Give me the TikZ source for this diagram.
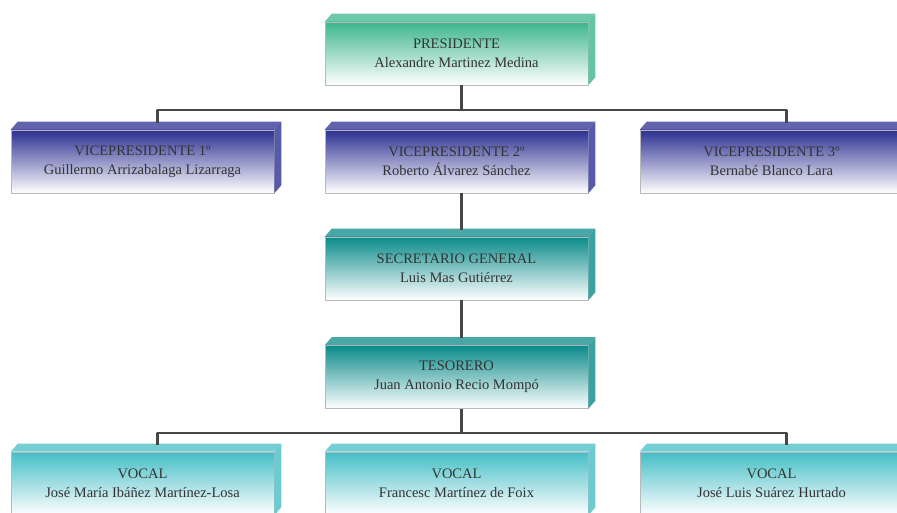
\documentclass[tikz,border=0pt]{standalone}
\usepackage{fontspec}
\setmainfont{Liberation Serif}
\definecolor{verde}{HTML}{3DB68C}
\definecolor{azul}{HTML}{2C3091}
\definecolor{petroleo}{HTML}{0B8A8A}
\definecolor{turquesa}{HTML}{45BEC6}
\tikzset{
	cargo/.style={draw=gray!55, line width=0.6pt, minimum width=263pt, minimum height=63pt,
		inner sep=0pt, align=center, text=black!80,
		top color=#1, middle color=#1!35!white, bottom color=white},
	conector/.style={draw=black!72, line width=2.2pt}
}
% caras superior y lateral de cada caja
\newcommand{\caja}[2]{%
	\fill[#2!75!white] (#1.north west) -- ++(7,-8) -- ([xshift=7pt,yshift=8pt]#1.north east) -- (#1.north east) -- cycle;
	\fill[#2!80!white] (#1.north east) -- ++(7,-8) -- ([xshift=7pt,yshift=8pt]#1.south east) -- (#1.south east) -- cycle;
}
\begin{document}
\begin{tikzpicture}[x=1pt, y=-1pt, font=\fontsize{14.5}{19}\selectfont, line join=round]
	\clip (0,0) rectangle (897,513);
	\def\xa{142.5} \def\xb{456.5} \def\xc{771.5}
	% cajas
	\node[cargo=verde] (pres) at (\xb,53.5) {PRESIDENTE\\Alexandre Martinez Medina};
	\caja{pres}{verde}
	\node[cargo=azul] (vp1) at (\xa,161.5) {VICEPRESIDENTE 1º\\Guillermo Arrizabalaga Lizarraga};
	\node[cargo=azul] (vp2) at (\xb,161.5) {VICEPRESIDENTE 2º\\Roberto Álvarez Sánchez};
	\node[cargo=azul] (vp3) at (\xc,161.5) {VICEPRESIDENTE 3º\\Bernabé Blanco Lara};
	\caja{vp1}{azul} \caja{vp2}{azul} \caja{vp3}{azul}
	\node[cargo=petroleo] (sec) at (\xb,268.5) {SECRETARIO GENERAL\\Luis Mas Gutiérrez};
	\node[cargo=petroleo] (tes) at (\xb,377) {TESORERO\\Juan Antonio Recio Mompó};
	\caja{sec}{petroleo} \caja{tes}{petroleo}
	\node[cargo=turquesa] (voc1) at (\xa,483.5) {VOCAL\\José María Ibáñez Martínez-Losa};
	\node[cargo=turquesa] (voc2) at (\xb,483.5) {VOCAL\\Francesc Martínez de Foix};
	\node[cargo=turquesa] (voc3) at (\xc,483.5) {VOCAL\\José Luis Suárez Hurtado};
	\caja{voc1}{turquesa} \caja{voc2}{turquesa} \caja{voc3}{turquesa}
	% conectores
	\draw[conector] ([xshift=5pt]pres.south) -- ++(0,25) coordinate (b1);
	\draw[conector] ([xshift=15pt,yshift=7pt]vp1.north) |- (b1) -| ([xshift=15pt,yshift=7pt]vp3.north);
	\draw[conector] ([xshift=5pt]vp2.south) -- ([xshift=5pt,yshift=7pt]sec.north);
	\draw[conector] ([xshift=5pt]sec.south) -- ([xshift=5pt,yshift=7pt]tes.north);
	\draw[conector] ([xshift=5pt]tes.south) -- ++(0,24) coordinate (b2);
	\draw[conector] ([xshift=15pt,yshift=7pt]voc1.north) |- (b2) -| ([xshift=15pt,yshift=7pt]voc3.north);
\end{tikzpicture}
\end{document}
